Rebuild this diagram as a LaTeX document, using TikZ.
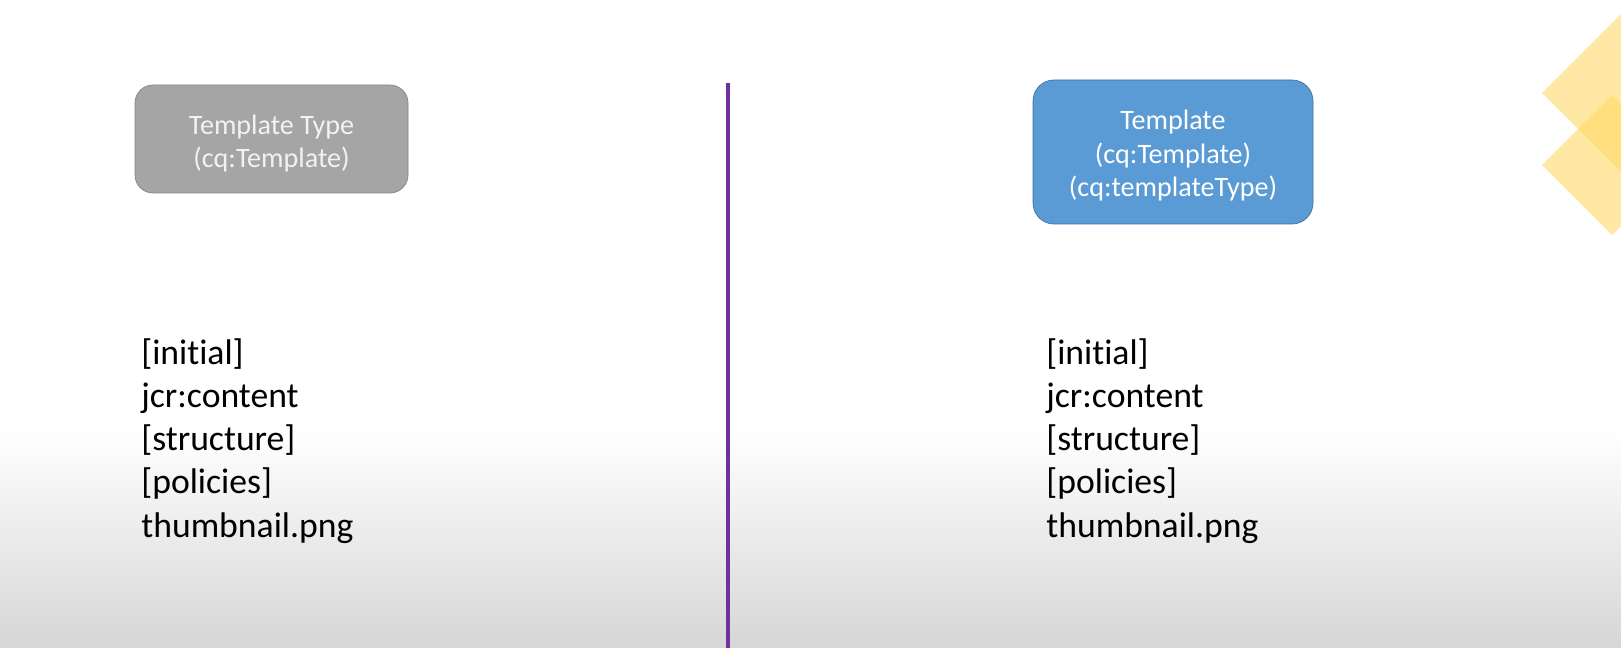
\documentclass[tikz,border=0pt]{standalone}
\usepackage{fontspec}
\setmainfont{Carlito}[Ligatures=NoCommon]
\usepackage{tikz}

\definecolor{typegray}{HTML}{A5A5A5}
\definecolor{typeedge}{HTML}{858585}
\definecolor{tplblue}{HTML}{5B9BD5}
\definecolor{tpledge}{HTML}{41719C}
\definecolor{divpurple}{HTML}{7030A0}
\definecolor{tileyellow}{HTML}{FFD966}

\begin{document}
\begin{tikzpicture}[x=0.02cm,y=-0.02cm,
  typebox/.style={draw=typeedge,fill=typegray,rounded corners=0.36cm},
  tplbox/.style={draw=tpledge,fill=tplblue,rounded corners=0.42cm},
  typetext/.style={text=white!95!black,align=center,font=\fontsize{16}{18.8}\selectfont},
  tpltext/.style={text=white,align=center,font=\fontsize{16}{19}\selectfont},
  itemlist/.style={align=left,anchor=base west,inner sep=0pt,font=\fontsize{20.3}{24.6}\selectfont}]
  \useasboundingbox (0,0) rectangle (1621,648);
  \clip (0,0) rectangle (1621,648);
  \fill[white] (0,0) rectangle (1621,430);
  \shade[top color=white,bottom color=black!16] (0,430) rectangle (1621,648);
  % tiles top right
  \fill[tileyellow,fill opacity=.6] (1542,93) -- (1627,8) -- (1712,93) -- (1627,178) -- cycle;
  \fill[tileyellow,fill opacity=.6] (1542,165) -- (1612,95) -- (1682,165) -- (1612,235) -- cycle;
  % divider
  \coordinate (divtop) at (728,83);
  \coordinate (divbot) at (728,648);
  \draw[divpurple,line width=2pt] (divtop) -- (divbot);
  % boxes
  \node[typebox,minimum width=273*0.02cm,minimum height=108*0.02cm] (typenode) at (271.5,139) {};
  \node[typetext] (typelabel) at ([yshift=-2.4pt]typenode.center) {Template Type\\(cq:Template)};
  \node[tplbox,minimum width=280*0.02cm,minimum height=144*0.02cm] (tplnode) at (1173,152) {};
  \node[tpltext] (tpllabel) at ([yshift=-2pt]tplnode.center) {Template\\(cq:Template)\\(cq:templateType)};
  % contents (anchored on the last line)
  \node[itemlist] (typelist) at (141,537) {{[initial]}\\{jcr:content}\\{[structure]}\\{[policies]}\\{thumbnail.png}};
  \node[itemlist] (tpllist) at (1046,537) {{[initial]}\\{jcr:content}\\{[structure]}\\{[policies]}\\{thumbnail.png}};
\end{tikzpicture}
\end{document}
